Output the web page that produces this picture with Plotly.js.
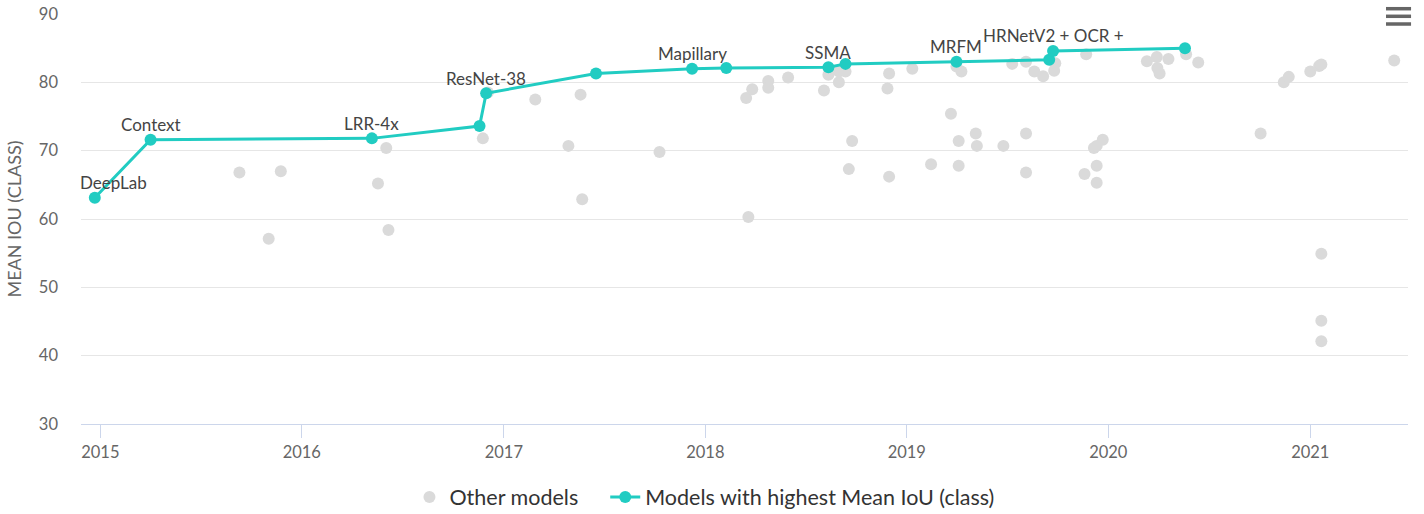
<!DOCTYPE html>
<html>
<head>
<meta charset="utf-8">
<script src="https://cdn.plot.ly/plotly-3.0.1.min.js"></script>
<style>
  html, body { margin: 0; padding: 0; background: #fff; }
  #chart { width: 1424px; height: 514px; }
</style>
</head>
<body>
<div id="chart"></div>
<script>
// Other models (gray scatter)
const otherDates = [
  '2015-09-10','2015-11-24','2015-11-02','2016-06-02','2016-05-18','2016-06-06','2016-11-24','2016-12-03',
  '2017-02-27','2017-05-20','2017-04-28','2017-05-23','2017-10-10',
  '2018-03-16','2018-03-27','2018-04-25','2018-04-25','2018-05-31','2018-03-20','2018-08-04','2018-08-12',
  '2018-08-31','2018-09-12','2018-08-31','2018-09-24','2018-09-18','2018-11-30','2018-11-27','2018-11-30',
  '2019-01-11','2019-03-22','2019-04-05','2019-02-14','2019-04-05','2019-05-06','2019-05-08','2019-06-25',
  '2019-08-05','2019-08-05','2019-11-19','2019-12-11','2019-12-11','2019-12-06','2019-12-22','2019-12-11',
  '2019-04-01','2019-04-10','2019-07-11','2019-08-05','2019-08-20','2019-09-05','2019-09-25','2019-09-27',
  '2019-11-22','2020-03-11','2020-03-29','2020-03-30','2020-04-03','2020-04-19','2020-05-21','2020-06-12',
  '2020-10-03','2020-11-14','2020-11-23','2021-01-01','2021-01-17','2021-01-21','2021-06-02',
  '2021-01-21','2021-01-21','2021-01-21'
];
const otherValues = [
  66.8, 67.0, 57.1, 70.4, 65.2, 58.4, 71.8, 78.5,
  77.5, 78.2, 70.7, 62.9, 69.8,
  77.7, 79.0, 80.2, 79.2, 80.7, 60.3, 78.8, 81.1,
  81.6, 81.6, 80.0, 71.4, 67.3, 81.3, 79.1, 66.2,
  82.0, 75.4, 71.4, 68.0, 67.8, 72.5, 70.7, 70.7,
  72.5, 66.8, 66.6, 67.8, 65.3, 70.4, 71.6, 70.7,
  82.3, 81.6, 82.7, 83.0, 81.6, 80.9, 81.7, 82.8,
  84.1, 83.1, 83.7, 82.1, 81.3, 83.4, 84.1, 82.9,
  72.5, 80.0, 80.8, 81.6, 82.4, 82.6, 83.2,
  54.9, 45.1, 42.1
];

// Models with highest Mean IoU (class)
const bestDates = [
  '2014-12-22','2015-04-02','2016-05-07','2016-11-18','2016-11-30','2017-06-17','2017-12-08',
  '2018-02-08','2018-08-12','2018-09-12','2019-04-01','2019-09-16','2019-09-23','2020-05-19'
];
const bestValues = [63.1, 71.6, 71.8, 73.6, 78.4, 81.3, 82.0, 82.1, 82.2, 82.7, 83.0, 83.3, 84.6, 85.0];
const bestLabels = ['DeepLab','Context','LRR-4x','','ResNet-38','','Mapillary','','SSMA','','MRFM','','HRNetV2 + OCR +',''];

// Series names
const seriesNames = ['Other models', 'Models with highest Mean IoU (class)'];

// Axis ticks
const yTicks = [30, 40, 50, 60, 70, 80, 90];
const xTickVals = ['2015-01-01','2016-01-01','2017-01-01','2018-01-01','2019-01-01','2020-01-01','2021-01-01'];
const xTickText = ['2015','2016','2017','2018','2019','2020','2021'];

const FONT = 'Lato, "Open Sans", sans-serif';
const TEAL = '#21ccc2';
const GRAY = '#dadada';
const PAD = '\u00a0\u00a0\u00a0\u00a0';

const traces = [
  {
    type: 'scatter', mode: 'markers', name: seriesNames[0] + PAD,
    x: otherDates, y: otherValues,
    marker: { color: GRAY, size: 12 },
    hoverinfo: 'x+y'
  },
  {
    type: 'scatter', mode: 'lines+markers', name: seriesNames[1],
    x: bestDates, y: bestValues, text: bestLabels,
    line: { color: TEAL, width: 3 },
    marker: { color: TEAL, size: 12 },
    hoverinfo: 'x+y+text'
  }
];

const annotations = [];
bestLabels.forEach((lab, i) => {
  if (!lab) return;
  annotations.push({
    x: bestDates[i], y: bestValues[i], xref: 'x', yref: 'y',
    text: lab, showarrow: false,
    xanchor: 'center', yanchor: 'middle',
    yshift: 15, xshift: i === 0 ? 19 : 0,
    font: { family: FONT, size: 17, color: '#444' }
  });
});

const shapes = [
  { type: 'rect', xref: 'paper', yref: 'paper', x0: 0.9774, x1: 1.02, y0: 0.96, y1: 1.03,
    fillcolor: '#ffffff', line: { width: 0 }, layer: 'above' },
  { type: 'line', xref: 'paper', yref: 'paper', x0: 0.9834, x1: 1.0023, y0: 1.0129, y1: 1.0129,
    line: { color: '#666', width: 3.5 }, layer: 'above' },
  { type: 'line', xref: 'paper', yref: 'paper', x0: 0.9834, x1: 1.0023, y0: 0.9944, y1: 0.9944,
    line: { color: '#666', width: 3.5 }, layer: 'above' },
  { type: 'line', xref: 'paper', yref: 'paper', x0: 0.9834, x1: 1.0023, y0: 0.9756, y1: 0.9756,
    line: { color: '#666', width: 3.5 }, layer: 'above' }
];

const layout = {
  width: 1424, height: 514,
  margin: { l: 81, r: 16, t: 14, b: 90 },
  paper_bgcolor: '#fff', plot_bgcolor: '#fff',
  font: { family: FONT, color: '#666' },
  showlegend: true,
  legend: {
    orientation: 'h', xref: 'container', yref: 'container',
    x: 0.4947, xanchor: 'center', y: 0.033, yanchor: 'middle',
    font: { family: FONT, size: 21.5, color: '#333' },
    itemclick: false, itemdoubleclick: false
  },
  xaxis: {
    type: 'date',
    range: ['2014-11-27', '2021-06-27'],
    tickmode: 'array', tickvals: xTickVals, ticktext: xTickText,
    showgrid: false, zeroline: false,
    showline: true, linecolor: '#ccd6eb', linewidth: 1,
    ticks: 'outside', ticklen: 13, tickcolor: '#ccd6eb', tickwidth: 1,
    tickfont: { family: FONT, size: 16.5, color: '#666' }
  },
  yaxis: {
    range: [30, 90],
    tickmode: 'array', tickvals: yTicks,
    showgrid: true, gridcolor: '#e6e6e6', gridwidth: 1,
    zeroline: false, showline: false,
    ticks: '', ticklabelstandoff: 22,
    tickfont: { family: FONT, size: 16.5, color: '#666' },
    title: { text: 'MEAN IOU (CLASS)', font: { family: FONT, size: 18, color: '#666' }, standoff: 12 }
  },
  annotations: annotations,
  shapes: shapes
};

Plotly.newPlot('chart', traces, layout, { displayModeBar: false, staticPlot: false });
</script>
</body>
</html>
